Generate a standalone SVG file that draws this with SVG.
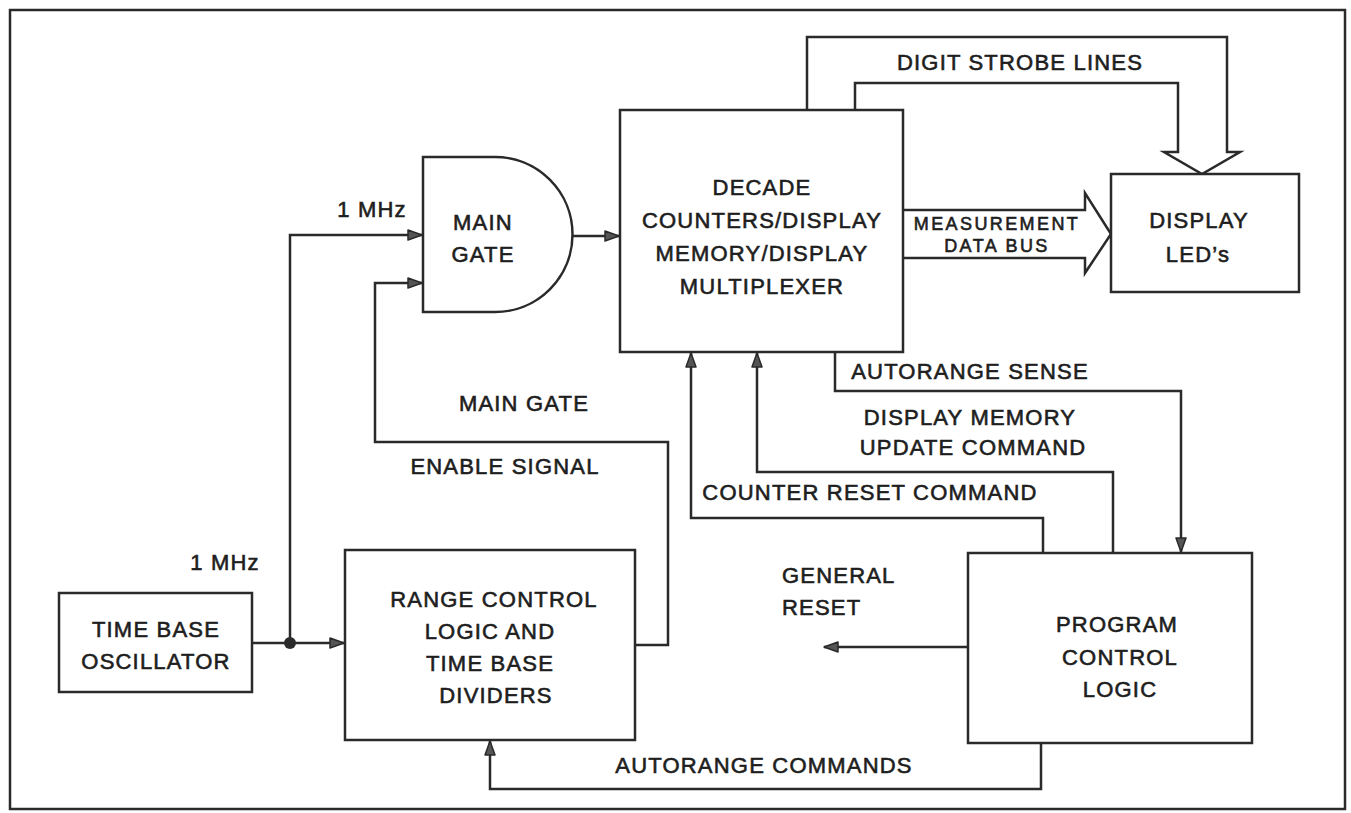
<svg xmlns="http://www.w3.org/2000/svg" width="1351" height="813" viewBox="0 0 1351 813">
<style>
.box{fill:#fff;stroke:#2a2a2a;stroke-width:2.5}
.ln{fill:none;stroke:#2a2a2a;stroke-width:2.5;stroke-linejoin:miter}
.bus{fill:#fff;stroke:#2a2a2a;stroke-width:2.5;stroke-linejoin:miter}
text{font-family:"Liberation Sans",Arial,sans-serif;font-size:22px;fill:#1e1e1e;stroke:#1e1e1e;stroke-width:0.6;letter-spacing:1.2px;text-anchor:middle}
.sm{font-size:18px;letter-spacing:2.4px}
.lt{text-anchor:start}
</style>
<defs>
<marker id="ah" viewBox="0 0 16 12" refX="15" refY="6" markerWidth="16" markerHeight="12" markerUnits="userSpaceOnUse" orient="auto">
<path d="M1,1 L15,6 L1,11 Z" fill="#555" stroke="#2a2a2a" stroke-width="1.5" stroke-linejoin="round"/>
</marker>
</defs>
<rect width="1351" height="813" fill="#fff"/>
<rect x="10" y="10" width="1335" height="799" fill="none" stroke="#2a2a2a" stroke-width="2.5"/>

<g id="connectors">
<path class="ln" d="M572,236 H619" marker-end="url(#ah)"/>
<path class="ln" d="M290,643 V235 H422" marker-end="url(#ah)"/>
<path class="ln" d="M252,643 H344" marker-end="url(#ah)"/>
<circle cx="290" cy="643" r="6" fill="#2a2a2a"/>
<path class="ln" d="M635,645 H668 V442 H375 V283 H422" marker-end="url(#ah)"/>
<path class="bus" d="M807,110 V37 H1227 V152 H1240 L1202,174 L1164,152 H1178 V83 H855 V110"/>
<path class="bus" d="M903,210 H1085 V193 L1111,234 L1085,273 V258 H903"/>
<path class="ln" d="M835,352 V391 H1181 V552" marker-end="url(#ah)"/>
<path class="ln" d="M1113,553 V472 H757 V353" marker-end="url(#ah)"/>
<path class="ln" d="M1043,553 V518 H691 V353" marker-end="url(#ah)"/>
<path class="ln" d="M968,647 H824" marker-end="url(#ah)"/>
<path class="ln" d="M1041,743 V789 H490 V741" marker-end="url(#ah)"/>
</g>

<g id="main-gate">
<path class="box" d="M423,157 H495 A77.5,77.5 0 0 1 495,312 H423 Z"/>
<text x="483" y="230">MAIN</text>
<text x="483" y="262">GATE</text>
</g>

<g id="decade-counters">
<rect class="box" x="620" y="110" width="283" height="242"/>
<text x="762" y="195">DECADE</text>
<text x="762" y="228">COUNTERS/DISPLAY</text>
<text x="762" y="261">MEMORY/DISPLAY</text>
<text x="762" y="294">MULTIPLEXER</text>
</g>

<g id="display-leds">
<rect class="box" x="1111" y="174" width="188" height="118"/>
<text x="1199" y="228">DISPLAY</text>
<text x="1198" y="262">LED’s</text>
</g>

<g id="time-base-oscillator">
<rect class="box" x="59" y="593" width="193" height="99"/>
<text x="156" y="637">TIME BASE</text>
<text x="156" y="669">OSCILLATOR</text>
</g>

<g id="range-control">
<rect class="box" x="345" y="550" width="290" height="190"/>
<text x="494" y="607">RANGE CONTROL</text>
<text x="490" y="639">LOGIC AND</text>
<text x="490" y="671">TIME BASE</text>
<text x="496" y="703">DIVIDERS</text>
</g>

<g id="program-control">
<rect class="box" x="968" y="553" width="284" height="190"/>
<text x="1117" y="632">PROGRAM</text>
<text x="1120" y="665">CONTROL</text>
<text x="1120" y="697">LOGIC</text>
</g>

<g id="labels">
<text x="372" y="217">1 MHz</text>
<text x="225" y="570">1 MHz</text>
<text x="524" y="411">MAIN GATE</text>
<text x="505" y="474">ENABLE SIGNAL</text>
<text x="1020" y="70">DIGIT STROBE LINES</text>
<text class="sm" x="997" y="230">MEASUREMENT</text>
<text class="sm" x="997" y="252">DATA BUS</text>
<text x="970" y="379">AUTORANGE SENSE</text>
<text x="970" y="425">DISPLAY MEMORY</text>
<text x="973" y="455">UPDATE COMMAND</text>
<text x="870" y="500">COUNTER RESET COMMAND</text>
<text class="lt" x="782" y="583">GENERAL</text>
<text class="lt" x="782" y="615">RESET</text>
<text x="764" y="773">AUTORANGE COMMANDS</text>
</g>
</svg>
